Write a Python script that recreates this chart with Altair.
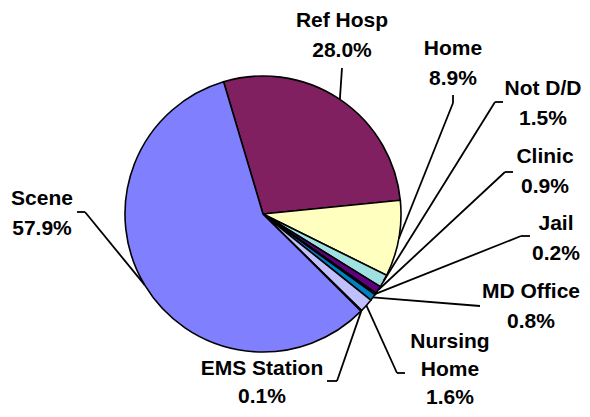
import math
import altair as alt
import pandas as pd

# ---- data ----
categories = ["Ref Hosp", "Home", "Not D/D", "Clinic", "Jail", "MD Office",
              "Nursing Home", "EMS Station", "Scene"]
values = [28.0, 8.9, 1.5, 0.9, 0.2, 0.8, 1.6, 0.1, 57.9]
labels = ["Ref Hosp\n28.0%", "Home\n8.9%", "Not D/D\n1.5%", "Clinic\n0.9%",
          "Jail\n0.2%", "MD Office\n0.8%", "Nursing\nHome\n1.6%",
          "EMS Station\n0.1%", "Scene\n57.9%"]

# ---- style / layout (page pixel coordinates) ----
colors = ["#802060", "#FFFFC0", "#A0E0E0", "#600080", "#E06060", "#0080C0",
          "#C0C0FF", "#000080", "#8080FF"]
OFF = 8
CX, CY, R = 263 - OFF, 214 - OFF, 138
START = -16.6 * math.pi / 180
label_x = [342, 453, 543, 545, 556, 531, 450, 262, 42]
label_y = [27, 55, 95, 163, 230, 298, 348, 375, 205]
line_h = [29.5, 29.5, 29.5, 29.5, 29.5, 29.5, 28, 28, 29.5]
anchor_x = [342, 453, 503, 513, 530, 480, 405, 327, 77]
anchor_y = [68, 95, 102, 172, 236, 306, 373, 381, 212]
elbow_x = [342, 453, 495, 505, 521, 480, 397, 337, 85]
elbow_y = [68, 103, 102, 172, 236, 306, 373, 381, 212]

df = pd.DataFrame({
    "cat": categories,
    "value": values,
    "idx": list(range(len(categories))),
    "label": labels,
    "lx": [v - OFF for v in label_x],
    "ly": [v - OFF for v in label_y],
    "lh": line_h,
    "ax": [v - OFF for v in anchor_x],
    "ay": [v - OFF for v in anchor_y],
    "bx": [v - OFF for v in elbow_x],
    "by": [v - OFF for v in elbow_y],
})

base = alt.Chart(df)

pie = base.mark_arc(outerRadius=R, stroke="black", strokeWidth=1.6).encode(
    theta=alt.Theta("value:Q", stack=True,
                    scale=alt.Scale(range=[START + 2 * math.pi, START + 4 * math.pi])),
    color=alt.Color("cat:N", scale=alt.Scale(domain=categories, range=colors), legend=None),
    order=alt.Order("idx:Q"),
    x=alt.value(CX),
    y=alt.value(CY),
)

edge = base.transform_window(
    cum="sum(value)", sort=[alt.SortField("idx")]
).transform_joinaggregate(
    total="sum(value)"
).transform_calculate(
    ang=f"{START} + 2*PI*(datum.cum - datum.value/2)/datum.total",
).transform_calculate(
    ex=f"{CX} + {R}*sin(datum.ang)",
    ey=f"{CY} - {R}*cos(datum.ang)",
)

lead1 = base.mark_rule(color="black", strokeWidth=1.8).encode(
    x=alt.X("ax:Q", scale=None), y=alt.Y("ay:Q", scale=None),
    x2="bx:Q", y2="by:Q",
)
lead2 = edge.mark_rule(color="black", strokeWidth=1.8).encode(
    x=alt.X("bx:Q", scale=None), y=alt.Y("by:Q", scale=None),
    x2="ex:Q", y2="ey:Q",
)

text_main = base.transform_filter("datum.lh > 29").mark_text(
    align="center", baseline="alphabetic", fontSize=21, fontWeight="bold",
    font="Liberation Sans", lineBreak="\n", lineHeight=29.5, color="black"
).encode(
    x=alt.X("lx:Q", scale=None), y=alt.Y("ly:Q", scale=None), text="label:N",
)
text_tight = base.transform_filter("datum.lh <= 29").mark_text(
    align="center", baseline="alphabetic", fontSize=21, fontWeight="bold",
    font="Liberation Sans", lineBreak="\n", lineHeight=28, color="black"
).encode(
    x=alt.X("lx:Q", scale=None), y=alt.Y("ly:Q", scale=None), text="label:N",
)

chart = alt.layer(pie, lead1, lead2, text_main, text_tight).properties(
    width=574, height=401, padding=0, autosize=alt.AutoSizeParams(type="none"),
    background="white",
).configure_view(stroke=None)

chart.save("out.html", embed_options={"renderer": "svg", "actions": False})
